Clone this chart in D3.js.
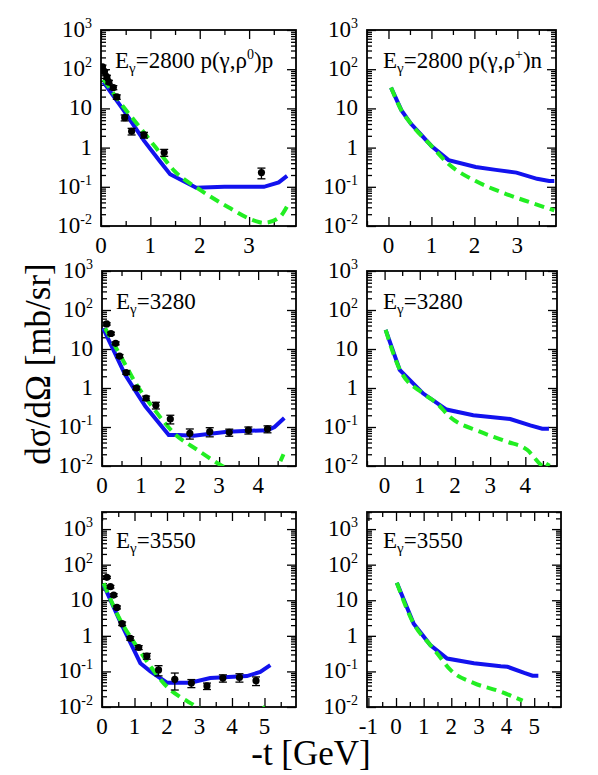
<!DOCTYPE html>
<html>
  <head>
    <meta charset="utf-8">
    <title>rho photoproduction</title>
    <script src="https://cdn.jsdelivr.net/npm/d3@7"></script>
  </head>

  <style>
    body { margin: 0; background: #fff; }
    svg text { font-family: "Liberation Serif", Tinos, "DejaVu Serif", serif; fill: #000; }
    .axis path, .axis line { stroke: #000; }
  </style>

  <body>
    <script>

      // --- data ---
      // E=2800, rho0
      var tlDataT = [0.03, 0.07, 0.12, 0.16, 0.25, 0.32, 0.48, 0.62, 0.87, 1.28, 3.25];
      var tlDataV = [115, 86, 63, 47, 34, 19.6, 5.8, 2.6, 2.1, 0.75, 0.23];
      var tlDataE = [12, 9, 7, 5, 4, 2.5, 1.0, 0.5, 0.35, 0.15, 0.07];
      var tlBlueT = [0.05, 0.46, 0.87, 1.18, 1.40, 1.93, 2.5, 3.3, 3.6, 3.77];
      var tlBlueV = [47, 8.9, 1.5, 0.47, 0.21, 0.095, 0.1, 0.1, 0.13, 0.19];
      var tlGreenT = [0.05, 0.46, 0.70, 1.11, 1.48, 2.03, 2.58, 3.12, 3.3, 3.6, 3.77];
      var tlGreenV = [55, 10.7, 4.5, 1.0, 0.26, 0.08, 0.03, 0.0135, 0.012, 0.016, 0.032];

      // E=2800, rho+
      var trBlueT = [0.06, 0.3, 0.52, 1.0, 1.4, 2.03, 2.5, 2.98, 3.46, 3.74, 3.86];
      var trBlueV = [34, 9, 4.1, 1.1, 0.48, 0.32, 0.27, 0.23, 0.16, 0.14, 0.14];
      var trGreenT = [0.06, 0.3, 0.52, 1.0, 1.4, 2.03, 2.67, 3.3, 3.86];
      var trGreenV = [34, 9, 4.1, 1.1, 0.38, 0.14, 0.07, 0.04, 0.025];

      // E=3280, rho0
      var mlDataT = [0.12, 0.23, 0.35, 0.45, 0.62, 0.88, 1.13, 1.38, 1.75, 2.25, 2.76, 3.26, 3.75, 4.24];
      var mlDataV = [44, 25, 14, 6.6, 2.5, 1.0, 0.55, 0.36, 0.16, 0.069, 0.076, 0.073, 0.083, 0.089];
      var mlDataE = [3, 2, 1.2, 0.6, 0.25, 0.1, 0.07, 0.07, 0.04, 0.02, 0.02, 0.015, 0.017, 0.018];
      var mlBlueT = [0.03, 0.59, 0.86, 1.11, 1.71, 1.95, 2.35, 3.21, 4.24, 4.42, 4.67];
      var mlBlueV = [34, 2.2, 0.83, 0.34, 0.062, 0.062, 0.06, 0.076, 0.083, 0.1, 0.17];
      var mlGreenT = [0.08, 0.5, 0.89, 1.32, 1.84, 2.44, 3.08, 3.5, 4.0, 4.3, 4.55, 4.65];
      var mlGreenV = [34, 6, 1.2, 0.3, 0.07, 0.026, 0.01, 0.006, 0.004, 0.005, 0.012, 0.02];

      // E=3280, rho+
      var mrBlueT = [0.03, 0.43, 1.1, 1.76, 2.52, 3.57, 4.14, 4.48, 4.67];
      var mrBlueV = [31, 2.9, 0.72, 0.28, 0.2, 0.16, 0.11, 0.09, 0.09];
      var mrGreenT = [0.03, 0.43, 1.1, 1.48, 1.86, 2.71, 3.48, 4.05, 4.43, 4.55, 4.67];
      var mrGreenV = [31, 3, 0.72, 0.41, 0.18, 0.076, 0.042, 0.026, 0.011, 0.009, 0.012];

      // E=3550, rho0
      var blDataT = [0.15, 0.26, 0.36, 0.46, 0.62, 0.87, 1.13, 1.38, 1.74, 2.24, 2.75, 3.23, 3.72, 4.23, 4.74];
      var blDataV = [44, 24, 14, 6.3, 2.2, 0.85, 0.47, 0.27, 0.11, 0.06, 0.047, 0.039, 0.065, 0.068, 0.055];
      var blDataE = [3, 2, 1.2, 0.6, 0.25, 0.1, 0.06, 0.05, 0.035, 0.03, 0.012, 0.008, 0.015, 0.018, 0.015];
      var blBlueT = [0.05, 0.56, 1.18, 1.49, 2.0, 2.72, 3.33, 4.46, 4.87, 5.18];
      var blBlueV = [27, 2.5, 0.17, 0.1, 0.048, 0.048, 0.065, 0.074, 0.097, 0.15];
      var blGreenT = [0.05, 0.56, 1.08, 1.49, 2.0, 2.41, 2.82, 3.2, 4.0, 4.6, 4.9, 5.13];
      var blGreenV = [30, 2.8, 0.49, 0.14, 0.037, 0.019, 0.0115, 0.007, 0.004, 0.005, 0.008, 0.013];

      // E=3550, rho+
      var brBlueT = [0.03, 0.64, 1.24, 1.85, 2.82, 3.79, 4.03, 4.64, 4.94, 5.15];
      var brBlueV = [31, 2.2, 0.55, 0.23, 0.17, 0.14, 0.135, 0.091, 0.076, 0.076];
      var brGreenT = [0.03, 0.64, 1.24, 1.49, 1.97, 2.82, 3.79, 4.58];
      var brGreenV = [31, 2.2, 0.55, 0.32, 0.11, 0.047, 0.027, 0.015];

      var energies = ["2800", "2800", "3280", "3280", "3550", "3550"];
      var reactions = [["p(γ,ρ", "0", ")p"], ["p(γ,ρ", "+", ")n"], null, null, null, null];

      var width = 598,
        height = 775;

      var blue = "#1212ee",
        green = "#22ee22";

      var svg = d3.select("body")
        .append("svg")
        .attr("width", width)
        .attr("height", height)
        .attr("font-family", "'Liberation Serif', Tinos, 'DejaVu Serif', serif");

      var panels = [
        { x0: 101, x1: 296, y0: 30, y1: 226, xd: [0, 3.95], yTop: 1e3,
          dt: tlDataT, dv: tlDataV, de: tlDataE, bt: tlBlueT, bv: tlBlueV, gt: tlGreenT, gv: tlGreenV },
        { x0: 367, x1: 556, y0: 30, y1: 226, xd: [-0.5, 3.9], yTop: 1e3,
          bt: trBlueT, bv: trBlueV, gt: trGreenT, gv: trGreenV },
        { x0: 102, x1: 296, y0: 271, y1: 466, xd: [0, 4.97], yTop: 1e3,
          dt: mlDataT, dv: mlDataV, de: mlDataE, bt: mlBlueT, bv: mlBlueV, gt: mlGreenT, gv: mlGreenV },
        { x0: 367, x1: 557, y0: 271, y1: 466, xd: [-0.5, 4.9], yTop: 1e3,
          bt: mrBlueT, bv: mrBlueV, gt: mrGreenT, gv: mrGreenV },
        { x0: 102, x1: 296, y0: 512, y1: 707, xd: [0, 5.97], yTop: Math.pow(10, 3.48),
          dt: blDataT, dv: blDataV, de: blDataE, bt: blBlueT, bv: blBlueV, gt: blGreenT, gv: blGreenV },
        { x0: 367, x1: 561, y0: 512, y1: 707, xd: [-1.05, 5.97], yTop: Math.pow(10, 3.48),
          bt: brBlueT, bv: brBlueV, gt: brGreenT, gv: brGreenV }
      ];

      panels.forEach(function(p, i) {

        var x = d3.scaleLinear().domain(p.xd).range([p.x0, p.x1]);
        var y = d3.scaleLog().domain([1e-2, p.yTop]).range([p.y1, p.y0]);

        var g = svg.append("g");

        // ticks
        var majX = d3.range(Math.ceil(p.xd[0]), p.xd[1] + 1e-9, 1);
        var minX = d3.range(Math.ceil(p.xd[0] * 2) / 2, p.xd[1], 0.5).filter(function(v) { return v % 1 !== 0; });
        var majY = [1e-2, 1e-1, 1, 10, 1e2, 1e3];
        var minY = [];
        for (var e = -2; e < 4; e++)
          for (var m = 2; m < 10; m++)
            if (m * Math.pow(10, e) <= p.yTop) minY.push(m * Math.pow(10, e));

        function drawAxis(axisFn, scale, vals, size, tr) {
          g.append("g")
            .attr("class", "axis")
            .attr("transform", tr)
            .call(axisFn(scale).tickValues(vals).tickSize(size).tickFormat(""))
            .call(function(s) {
              s.select(".domain").remove();
              s.selectAll("line").attr("stroke-width", 1.3);
            });
        }

        [[majX, -9], [minX, -5]].forEach(function(a) {
          drawAxis(d3.axisBottom, x, a[0], a[1], "translate(0," + p.y1 + ")");
          drawAxis(d3.axisTop, x, a[0], a[1], "translate(0," + p.y0 + ")");
        });
        [[majY, -9], [minY, -5]].forEach(function(a) {
          drawAxis(d3.axisLeft, y, a[0], a[1], "translate(" + p.x0 + ",0)");
          drawAxis(d3.axisRight, y, a[0], a[1], "translate(" + p.x1 + ",0)");
        });

        g.append("rect")
          .attr("x", p.x0).attr("y", p.y0)
          .attr("width", p.x1 - p.x0).attr("height", p.y1 - p.y0)
          .attr("fill", "none").attr("stroke", "#000").attr("stroke-width", 1.8);

        // x tick labels
        g.selectAll(".xl")
          .data(majX)
          .enter()
          .append("text")
          .attr("x", function(d) { return x(d); })
          .attr("y", p.y1 + 27)
          .attr("text-anchor", "middle")
          .attr("font-size", 23)
          .text(function(d) { return d; });

        // y tick labels
        majY.forEach(function(v) {
          var ex = Math.round(Math.log10(v));
          var t = g.append("text")
            .attr("x", p.x0 - 9)
            .attr("y", y(v) + 7)
            .attr("text-anchor", "end")
            .attr("font-size", 23);
          if (ex === 0) t.text("1");
          else if (ex === 1) t.text("10");
          else {
            t.append("tspan").text("10");
            t.append("tspan").attr("dy", -9).attr("font-size", 14).text(ex);
          }
        });

        // curves
        var clipId = "clip" + i;
        svg.append("clipPath").attr("id", clipId)
          .append("rect")
          .attr("x", p.x0).attr("y", p.y0)
          .attr("width", p.x1 - p.x0).attr("height", p.y1 - p.y0);

        var cg = g.append("g").attr("clip-path", "url(#" + clipId + ")");

        var line = d3.line()
          .x(function(d) { return x(d[0]); })
          .y(function(d) { return y(d[1]); });

        cg.append("path")
          .attr("d", line.curve(d3.curveLinear)(d3.zip(p.bt, p.bv)))
          .attr("fill", "none")
          .attr("stroke", blue)
          .attr("stroke-width", 4);

        cg.append("path")
          .attr("d", line.curve(d3.curveMonotoneX)(d3.zip(p.gt, p.gv)))
          .attr("fill", "none")
          .attr("stroke", green)
          .attr("stroke-width", 4)
          .attr("stroke-dasharray", "10,6");

        // data with error bars
        if (p.dt) {
          var pts = d3.zip(p.dt, p.dv, p.de);
          var eg = cg.selectAll(".pt")
            .data(pts)
            .enter()
            .append("g");

          eg.append("line")
            .attr("x1", function(d) { return x(d[0]); })
            .attr("x2", function(d) { return x(d[0]); })
            .attr("y1", function(d) { return y(d[1] + d[2]); })
            .attr("y2", function(d) { return y(Math.max(d[1] - d[2], 1e-3)); })
            .attr("stroke", "#000").attr("stroke-width", 1.3);

          [1, -1].forEach(function(sgn) {
            eg.append("line")
              .attr("x1", function(d) { return x(d[0]) - 4; })
              .attr("x2", function(d) { return x(d[0]) + 4; })
              .attr("y1", function(d) { return y(d[1] + sgn * d[2]); })
              .attr("y2", function(d) { return y(d[1] + sgn * d[2]); })
              .attr("stroke", "#000").attr("stroke-width", 1.3);
          });

          eg.append("circle")
            .attr("cx", function(d) { return x(d[0]); })
            .attr("cy", function(d) { return y(d[1]); })
            .attr("r", 3.6)
            .attr("fill", "#000");
        }

        // panel label
        var lbl = g.append("text")
          .attr("x", i % 2 === 0 ? p.x0 + 14 : p.x0 + 16)
          .attr("y", p.y0 + (i < 4 ? 38 : 36))
          .attr("font-size", 23);
        lbl.append("tspan").text("E");
        lbl.append("tspan").attr("dy", 5).attr("font-size", 15).text("γ");
        lbl.append("tspan").attr("dy", -5).text("=" + energies[i]);
        if (reactions[i]) {
          lbl.append("tspan").text(" " + reactions[i][0]);
          lbl.append("tspan").attr("dy", -9).attr("font-size", 14).text(reactions[i][1]);
          lbl.append("tspan").attr("dy", 9).text(reactions[i][2]);
        }
      });

      // axis titles
      svg.append("text")
        .attr("transform", "translate(50,364) rotate(-90)")
        .attr("text-anchor", "middle")
        .attr("font-size", 35)
        .text("dσ/dΩ [mb/sr]");

      svg.append("text")
        .attr("x", 311)
        .attr("y", 765)
        .attr("text-anchor", "middle")
        .attr("font-size", 35)
        .text("-t [GeV]");

    </script>
  </body>
</html>
